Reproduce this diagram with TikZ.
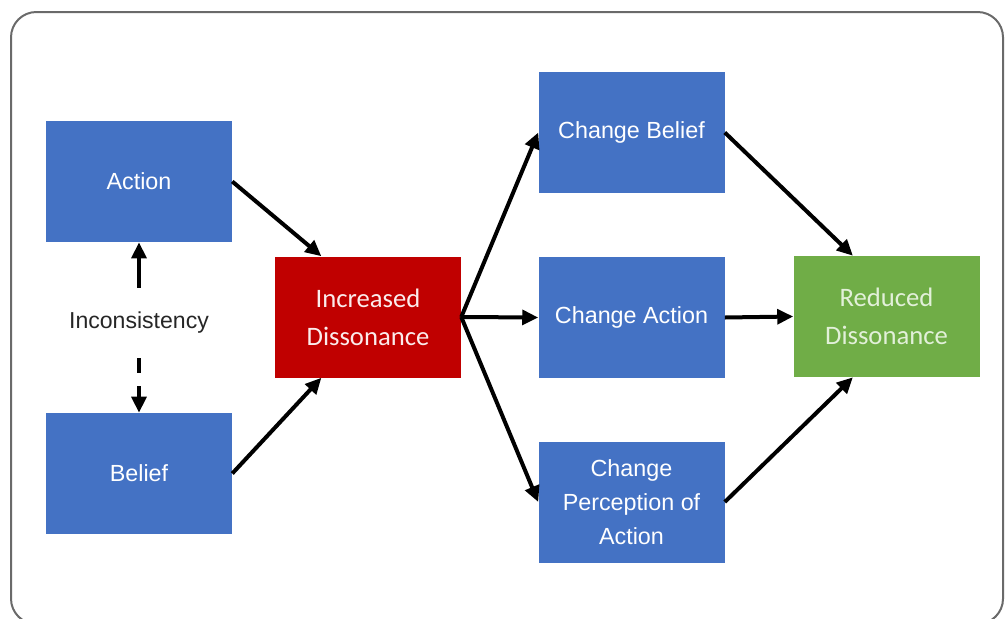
\documentclass[tikz,border=0pt]{standalone}
\usepackage{fontspec}
\setmainfont{Liberation Sans}
\newfontfamily\carl{Carlito}
\usetikzlibrary{arrows.meta,calc}
\definecolor{boxblue}{HTML}{4472C4}
\definecolor{boxred}{HTML}{C00000}
\definecolor{boxgreen}{HTML}{70AD47}
\definecolor{greentext}{HTML}{E2F0D9}
\definecolor{redtext}{HTML}{FBECEC}
\definecolor{frame}{HTML}{6A6A6A}
\begin{document}
\begin{tikzpicture}[x=0.75pt,y=-0.75pt,
  box/.style={draw=none, minimum width=139.5pt, minimum height=90.75pt, inner sep=0pt, align=center},
  bluebox/.style={box, fill=boxblue, text=white, font=\fontsize{17.5}{25.5}\selectfont},
  redbox/.style={box, fill=boxred, text=redtext, font=\carl\fontsize{20}{28.5}\selectfont},
  greenbox/.style={box, fill=boxgreen, text=greentext, font=\carl\fontsize{20}{28.5}\selectfont},
  label/.style={text=black!85, font=\fontsize{17.3}{20}\selectfont, inner sep=0pt, minimum height=52.5pt},
  conn/.style={line width=3pt, draw=black, -{Triangle[length=12pt,width=11pt]}}
]
\useasboundingbox (0,0) rectangle (1005,618);
\draw[frame, line width=1.5pt, rounded corners=19pt] (11,12) rectangle (1003,624);

\node[bluebox] (action) at (139,181.5) {\raisebox{-2pt}{Action}};
\node[bluebox] (belief) at (139,473.5) {\raisebox{-2pt}{Belief}};
\node[redbox] (incr) at (368,317) {Increased\\Dissonance};
\node[bluebox] (cbelief) at (631.5,132.5) {\raisebox{-3pt}{Change Belief}};
\node[bluebox] (caction) at (631.5,317.5) {\raisebox{-2pt}{Change Action}};
\node[bluebox] (cperc) at (631.5,502) {Change\\Perception of\\Action};
\node[greenbox] (red) at (886.5,316.5) {Reduced\\Dissonance};

\node[label] (inc) at (139,323) {Inconsistency};
\draw[conn] (inc.north) -- (action.south);
\draw[conn, dash pattern=on 11.25pt off 9.75pt on 60pt] (inc.south) -- (belief.north);

\draw[conn] (action.east) -- ($(incr.north west)!0.25!(incr.north east)$);
\draw[conn] (belief.east) -- ($(incr.south west)!0.25!(incr.south east)$);
\draw[conn] (incr.east) -- (cbelief.west);
\draw[conn] (incr.east) -- (caction.west);
\draw[conn] (incr.east) -- (cperc.west);
\draw[conn] (cbelief.east) -- ($(red.north west)!0.32!(red.north east)$);
\draw[conn] (caction.east) -- (red.west);
\draw[conn] (cperc.east) -- ($(red.south west)!0.32!(red.south east)$);
\end{tikzpicture}
\end{document}
